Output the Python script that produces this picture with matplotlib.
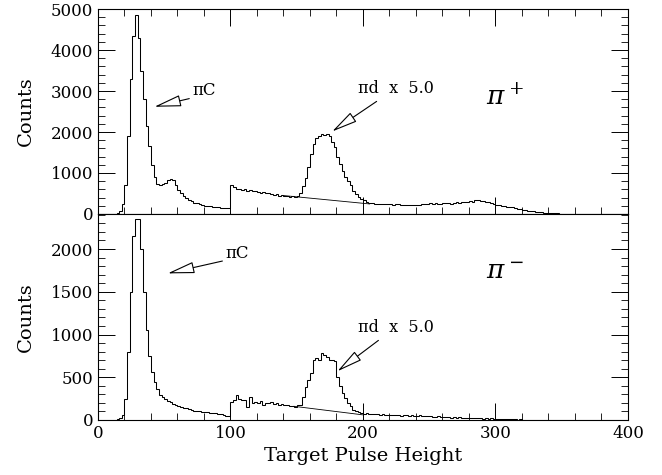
import numpy as np
import matplotlib
matplotlib.use('Agg')
import matplotlib.pyplot as plt

plt.rcParams['font.family'] = 'DejaVu Serif'
plt.rcParams['mathtext.fontset'] = 'dejavuserif'

# bin edges of the target pulse height histogram (2 channels per bin)
edges = np.arange(0, 402, 2)

# pi+ spectrum (pi-C below 100, pi-d x 5.0 above 100)
counts_plus = [
    0, 0, 0, 0, 0, 0, 5, 20, 80, 250,
    700, 1900, 3300, 4350, 4850, 4300, 3500, 2800, 2150, 1650,
    1200, 900, 730, 700, 720, 760, 830, 860, 820, 700,
    590, 510, 440, 380, 340, 310, 280, 260, 240, 220,
    205, 195, 185, 175, 165, 160, 150, 145, 140, 135,
    710, 650, 600, 620, 590, 610, 570, 580, 550, 560,
    530, 520, 540, 500, 510, 480, 470, 490, 450, 460,
    440, 450, 420, 430, 410, 440, 520, 680, 890, 1150,
    1470, 1710, 1850, 1910, 1960, 1920, 1960, 1900, 1750, 1630,
    1400, 1220, 1050, 900, 810, 700, 560, 480, 410, 370,
    340, 300, 270, 260, 250, 245, 250, 240, 235, 245,
    240, 230, 235, 245, 225, 230, 220, 215, 225, 210,
    220, 230, 240, 250, 240, 260, 250, 270, 255, 245,
    260, 280, 265, 250, 270, 285, 270, 290, 300, 285,
    310, 295, 330, 340, 305, 320, 300, 290, 270, 240,
    230, 215, 205, 195, 180, 170, 160, 145, 130, 115,
    105, 95, 85, 75, 65, 58, 50, 42, 36, 30,
    25, 20, 15, 12, 10, 8, 6, 5, 4, 3,
    2, 2, 1, 1, 1, 0, 0, 0, 0, 0,
    0, 0, 0, 0, 0, 0, 0, 0, 0, 0,
]

# pi- spectrum
counts_minus = [
    0, 0, 0, 0, 0, 0, 5, 10, 20, 60,
    250, 800, 1500, 2150, 2350, 2350, 2000, 1500, 1050, 750,
    560, 440, 360, 290, 270, 250, 220, 210, 190, 175,
    165, 155, 140, 135, 125, 115, 110, 105, 100, 98,
    92, 88, 85, 80, 78, 70, 65, 60, 52, 45,
    215, 234, 290, 240, 230, 234, 156, 270, 200, 210,
    195, 220, 180, 195, 200, 215, 185, 200, 170, 190,
    175, 180, 165, 160, 156, 170, 180, 270, 390, 470,
    550, 700, 720, 700, 780, 760, 740, 700, 700, 690,
    507, 400, 312, 260, 195, 160, 117, 100, 90, 78,
    75, 78, 70, 65, 72, 68, 60, 66, 62, 58,
    64, 55, 60, 58, 52, 56, 60, 50, 54, 48,
    52, 58, 46, 42, 50, 45, 40, 38, 42, 36,
    34, 30, 36, 28, 32, 26, 30, 24, 28, 22,
    25, 20, 24, 18, 22, 16, 20, 14, 18, 12,
    15, 12, 10, 12, 8, 10, 6, 8, 5, 6,
    4, 5, 3, 4, 2, 2, 1, 2, 1, 1,
    0, 0, 0, 0, 0, 0, 0, 0, 0, 0,
    0, 0, 0, 0, 0, 0, 0, 0, 0, 0,
    0, 0, 0, 0, 0, 0, 0, 0, 0, 0,
]

# background lines under the pi-d peak
bg_plus_x = [140, 205]
bg_plus_y = [450, 245]
bg_minus_x = [148, 200]
bg_minus_y = [160, 60]

fig = plt.figure(figsize=(6.62, 4.75), dpi=100)
ax1 = fig.add_axes([0.148, 0.5495, 0.8006, 0.4315])
ax2 = fig.add_axes([0.148, 0.1158, 0.8006, 0.4337])

arrow = dict(arrowstyle='-|>,head_length=1.4,head_width=0.3', fc='white', ec='black', lw=0.8)
arrow_c = dict(arrow, relpos=(0.1, 0.1), shrinkA=0)

ax1.stairs(counts_plus, edges, color='black', lw=0.75)
ax1.plot(bg_plus_x, bg_plus_y, color='black', lw=0.6)
ax1.set_ylim(0, 5000)
ax1.set_yticks([0, 1000, 2000, 3000, 4000, 5000])
ax1.set_yticks(np.arange(0, 5001, 200), minor=True)
ax1.annotate('πC', xy=(40.5, 2600), xytext=(71, 2900), fontsize=12, arrowprops=arrow_c)
ax1.annotate('πd  x  5.0', xy=(175, 1975), xytext=(196, 2950), fontsize=11.5, arrowprops=arrow)
ax1.text(293, 2850, r'$\pi^+$', fontsize=19, va='center')
ax1.tick_params(labelbottom=False)

ax2.stairs(counts_minus, edges, color='black', lw=0.75)
ax2.plot(bg_minus_x, bg_minus_y, color='black', lw=0.6)
ax2.set_ylim(0, 2410)
ax2.set_yticks([0, 500, 1000, 1500, 2000])
ax2.set_yticks(np.arange(0, 2401, 100), minor=True)
ax2.annotate('πC', xy=(50.6, 1708), xytext=(96, 1900), fontsize=12, arrowprops=arrow_c)
ax2.annotate('πd  x  5.0', xy=(179, 550), xytext=(196, 1030), fontsize=11.5, arrowprops=arrow)
ax2.text(293, 1743, r'$\pi^-$', fontsize=19, va='center')
ax2.set_xlabel('Target Pulse Height', fontsize=14)

for ax in (ax1, ax2):
    ax.set_xlim(0, 400)
    ax.set_xticks([0, 100, 200, 300, 400])
    ax.set_xticks(np.arange(0, 401, 20), minor=True)
    ax.set_ylabel('Counts', fontsize=14)
    ax.tick_params(which='both', direction='in', right=True, labelsize=12)
    ax.tick_params(which='major', length=12, width=0.7)
    ax.tick_params(which='minor', length=5, width=0.6)
    for s in ax.spines.values():
        s.set_linewidth(0.8)
ax1.tick_params(which='both', top=True)
ax1.yaxis.set_label_coords(-0.12, 0.5)
ax2.yaxis.set_label_coords(-0.12, 0.5)

fig.savefig('out.png', dpi=100)
